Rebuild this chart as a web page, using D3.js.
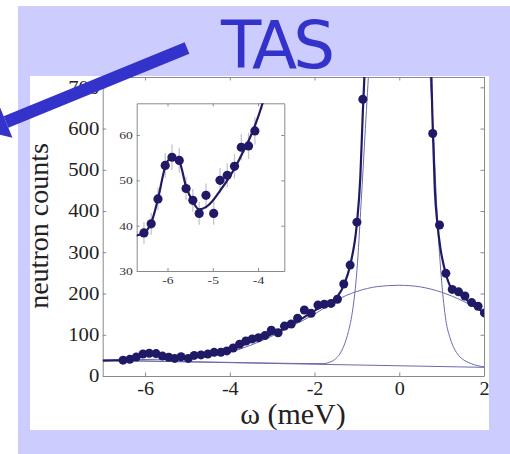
<!DOCTYPE html>
<html>
<head>
<meta charset="utf-8">
<script src="https://cdn.jsdelivr.net/npm/d3@7"></script>
<style>
  body { margin: 0; background: #fff; }
  svg { display: block; }
</style>
</head>
<body>
<div id="my_dataviz"></div>
<script>
// measured points (meV, counts)
let omega = [-6.52, -6.36, -6.21, -6.05, -5.90, -5.74, -5.59, -5.44, -5.30, -5.15, -4.98, -4.84, -4.68, -4.52, -4.37, -4.21, -4.07,
    -3.92, -3.77, -3.62, -3.47, -3.32, -3.17, -3.02, -2.86, -2.71, -2.55, -2.40, -2.24, -2.08, -1.92, -1.77, -1.61, -1.46, -1.31, -1.16, -1.00, -0.86,
    0.79, 0.95, 1.10, 1.25, 1.40, 1.55, 1.71, 1.86, 2.01]
let counts = [38.4, 40.4, 45.9, 53.3, 55.1, 54.4, 48.2, 45.6, 42.7, 46.7, 42.7, 50.0, 51.1, 53.1, 57.3, 57.6, 60.9,
    68, 77, 85, 90, 93, 98, 111, 105, 121, 126, 140, 160, 152, 172, 174, 176, 186, 223, 269, 373, 671,
    588, 366, 249, 210, 204, 194, 178, 169, 153]
// error bars only shown in the inset (first 18 points)
let insetErr = [2.4, 2.4, 2.5, 2.7, 2.8, 2.8, 2.6, 2.5, 2.5, 2.6, 2.5, 2.7, 2.7, 2.7, 2.9, 2.9, 3.0, 2.5]

// total fit
let fitOmega = [-7.00, -6.70, -6.52, -6.36, -6.21, -6.05, -5.90, -5.74, -5.59, -5.44, -5.30, -5.15, -5.00, -4.84, -4.68, -4.52, -4.37, -4.21, -4.07,
    -3.90, -3.60, -3.30, -3.00, -2.70, -2.40, -2.10, -1.80, -1.60, -1.45, -1.30, -1.15, -1.00, -0.92, -0.86, -0.80, -0.70, 0,
    0.70, 0.75, 0.79, 0.84, 0.90, 0.97, 1.05, 1.12, 1.20, 1.30, 1.45, 1.60, 1.80, 2.00]
let fitCounts = [37.5, 37.8, 38.4, 40.6, 45.9, 53.0, 55.2, 54.2, 48.6, 45.3, 43.6, 44.1, 45.5, 47.7, 50.0, 52.6, 55.5, 58.7, 62.0,
    67, 79, 90, 102, 116, 133, 152, 170, 181, 194, 222, 272, 370, 480, 640, 780, 1100, 3000,
    1100, 760, 604, 450, 370, 310, 268, 240, 218, 206, 196, 184, 168, 153]

// background + elastic line
let elasticOmega = [-7, -4, -2.5, -1.8, -1.65, -1.5, -1.4, -1.3, -1.2, -1.1, -1.0, -0.9, -0.8, -0.7, 0,
    0.7, 0.8, 0.9, 1.0, 1.1, 1.2, 1.3, 1.4, 1.55, 1.7, 1.85, 2.0]
let elasticCounts = [38, 33, 30.5, 30, 33, 42, 54, 75, 108, 160, 255, 420, 600, 780, 3000,
    780, 600, 380, 230, 135, 92, 66, 50, 37, 30, 25, 22.5]

// background + quasielastic
let broadOmega = [-7, -6, -5, -4, -3, -2.5, -2, -1.5, -1, -0.5, 0, 0.5, 1, 1.5, 2]
let broadCounts = [38, 40, 43, 58, 97, 123, 150, 183, 205, 217, 220, 216, 203, 182, 155]

// flat background
let backOmega = [-7, 2]
let backCounts = [38, 21]

let xTicks = [-6, -4, -2, 0, 2]
let yTicks = [0, 100, 200, 300, 400, 500, 600, 700]
let insetXTicks = [-6, -5, -4]
let insetYTicks = [30, 40, 50, 60]

let navy = "#1f1966"
let thin = "#6b6bab"
let serif = "'Liberation Serif', 'Times New Roman', serif"

let svg = d3.select("#my_dataviz")
    .append("svg")
    .attr("width", 510)
    .attr("height", 454)

svg.append("rect")
    .attr("x", 18).attr("y", 6)
    .attr("width", 492).attr("height", 448)
    .attr("fill", "#ccccff")

svg.append("text")
    .attr("x", 276)
    .attr("y", 68)
    .attr("text-anchor", "middle")
    .style("font-family", "'DejaVu Sans'")
    .style("font-size", "66px")
    .style("letter-spacing", "-4px")
    .attr("fill", "#3333cc")
    .text("TAS")

let defs = svg.append("defs")
defs.append("clipPath").attr("id", "panel")
    .append("rect").attr("x", 30).attr("y", 76).attr("width", 459).attr("height", 354)
defs.append("clipPath").attr("id", "plot")
    .append("rect").attr("x", 102.7).attr("y", 77).attr("width", 381.3).attr("height", 299)
defs.append("clipPath").attr("id", "insetclip")
    .append("rect").attr("x", 136.7).attr("y", 103.3).attr("width", 147.6).attr("height", 167.7)

let chart = svg.append("g").attr("clip-path", "url(#panel)")

chart.append("rect")
    .attr("x", 30).attr("y", 76)
    .attr("width", 459).attr("height", 354)
    .attr("fill", "#fff")

let x = d3.scaleLinear().domain([-7, 2]).range([102.7, 484])
let y = d3.scaleLinear().domain([0, 725]).range([376, 77])

function styleAxis(g, size, sx, color) {
    g.attr("font-family", null)
    g.select(".domain").attr("stroke", "#8a8a8a")
    g.selectAll(".tick line").attr("stroke", "#8a8a8a")
    g.selectAll(".tick text")
        .attr("font-family", serif)
        .style("font-family", serif)
        .style("font-size", size + "px")
        .attr("fill", color)
        .attr("transform", "scale(" + sx + ",1)")
}

chart.append("g")
    .attr("transform", "translate(0,376)")
    .call(d3.axisBottom(x).tickValues(xTicks).tickSizeInner(-3.5).tickSizeOuter(0).tickPadding(6).tickFormat(d => String(d)))
    .call(g => styleAxis(g, 18, 1.12, "#222"))
chart.append("g")
    .attr("transform", "translate(0,77)")
    .call(d3.axisTop(x).tickValues(xTicks).tickSizeInner(-3.5).tickSizeOuter(0).tickFormat(""))
    .call(g => styleAxis(g, 18, 1, "#222"))
chart.append("g")
    .attr("transform", "translate(102.7,0)")
    .call(d3.axisLeft(y).tickValues(yTicks).tickSizeInner(-3.5).tickSizeOuter(0).tickPadding(3).tickFormat(d => String(d)))
    .call(g => styleAxis(g, 18, 1.15, "#222"))
chart.append("g")
    .attr("transform", "translate(484,0)")
    .call(d3.axisRight(y).tickValues(yTicks).tickSizeInner(-3.5).tickSizeOuter(0).tickFormat(""))
    .call(g => styleAxis(g, 18, 1, "#222"))

chart.append("text")
    .attr("transform", "translate(48,226) rotate(-90)")
    .attr("text-anchor", "middle")
    .style("font-family", serif)
    .style("font-size", "28px")
    .attr("fill", "#222")
    .text("neutron counts")

chart.append("text")
    .attr("x", 293)
    .attr("y", 424)
    .attr("text-anchor", "middle")
    .style("font-family", serif)
    .style("font-size", "30px")
    .attr("fill", "#222")
    .text("ω (meV)")

let plot = chart.append("g").attr("clip-path", "url(#plot)")

function zipped(xs, ys) {
    return xs.map((d, i) => [d, ys[i]])
}

let mainLine = d3.line()
    .x(d => x(d[0]))
    .y(d => y(d[1]))
    .curve(d3.curveMonotoneX)

plot.append("path").datum(zipped(backOmega, backCounts))
    .attr("d", mainLine).attr("fill", "none").attr("stroke", thin).attr("stroke-width", 1)
plot.append("path").datum(zipped(broadOmega, broadCounts))
    .attr("d", mainLine).attr("fill", "none").attr("stroke", thin).attr("stroke-width", 1)
plot.append("path").datum(zipped(elasticOmega, elasticCounts))
    .attr("d", mainLine).attr("fill", "none").attr("stroke", thin).attr("stroke-width", 1)
plot.append("path").datum(zipped(fitOmega, fitCounts))
    .attr("d", mainLine).attr("fill", "none").attr("stroke", navy).attr("stroke-width", 2.2)

plot.selectAll(".dot")
    .data(zipped(omega, counts))
    .enter()
    .append("circle")
    .attr("class", "dot")
    .attr("cx", d => x(d[0]))
    .attr("cy", d => y(d[1]))
    .attr("r", 4.5)
    .attr("fill", navy)

// inset
let ix = d3.scaleLinear().domain([-6.68, -3.42]).range([136.7, 284.3])
let iy = d3.scaleLinear().domain([30, 67]).range([271, 103.3])

let inset = chart.append("g")
inset.append("rect")
    .attr("x", 136.7).attr("y", 103.3)
    .attr("width", 147.6).attr("height", 167.7)
    .attr("fill", "#fff")

inset.append("g")
    .attr("transform", "translate(0,271)")
    .call(d3.axisBottom(ix).tickValues(insetXTicks).tickSizeInner(-3).tickSizeOuter(0).tickPadding(6).tickFormat(d => String(d)))
    .call(g => styleAxis(g, 10.5, 1.3, "#333"))
inset.append("g")
    .attr("transform", "translate(0,103.3)")
    .call(d3.axisTop(ix).tickValues(insetXTicks).tickSizeInner(-3).tickSizeOuter(0).tickFormat(""))
    .call(g => styleAxis(g, 10.5, 1, "#333"))
inset.append("g")
    .attr("transform", "translate(136.7,0)")
    .call(d3.axisLeft(iy).tickValues(insetYTicks).tickSizeInner(-3).tickSizeOuter(0).tickPadding(3).tickFormat(d => String(d)))
    .call(g => styleAxis(g, 10.5, 1.3, "#333"))
inset.append("g")
    .attr("transform", "translate(284.3,0)")
    .call(d3.axisRight(iy).tickValues(insetYTicks).tickSizeInner(-3).tickSizeOuter(0).tickFormat(""))
    .call(g => styleAxis(g, 10.5, 1, "#333"))

let insetPlot = inset.append("g").attr("clip-path", "url(#insetclip)")
let insetData = zipped(omega, counts).slice(0, insetErr.length)

insetPlot.selectAll(".err")
    .data(insetData)
    .enter()
    .append("line")
    .attr("class", "err")
    .attr("x1", d => ix(d[0]))
    .attr("x2", d => ix(d[0]))
    .attr("y1", (d, i) => iy(d[1] - insetErr[i]))
    .attr("y2", (d, i) => iy(d[1] + insetErr[i]))
    .attr("stroke", "#c4c4cc")
    .attr("stroke-width", 1.3)

let insetLine = d3.line()
    .x(d => ix(d[0]))
    .y(d => iy(d[1]))
    .curve(d3.curveMonotoneX)

insetPlot.append("path").datum(zipped(fitOmega, fitCounts).filter(d => d[0] < -3.0))
    .attr("d", insetLine).attr("fill", "none").attr("stroke", navy).attr("stroke-width", 2.2)

insetPlot.selectAll(".idot")
    .data(insetData)
    .enter()
    .append("circle")
    .attr("class", "idot")
    .attr("cx", d => ix(d[0]))
    .attr("cy", d => iy(d[1]))
    .attr("r", 4.6)
    .attr("fill", navy)

// big arrow pointing out of the slide
let start = [187, 48], base = [6, 122]
let len = Math.hypot(base[0] - start[0], base[1] - start[1])
let u = [(base[0] - start[0]) / len, (base[1] - start[1]) / len]
let n = [-u[1], u[0]]
let tip = [base[0] + 24 * u[0], base[1] + 24 * u[1]]

svg.append("line")
    .attr("x1", start[0]).attr("y1", start[1])
    .attr("x2", base[0]).attr("y2", base[1])
    .attr("stroke", "#3333cc")
    .attr("stroke-width", 12.5)
svg.append("polygon")
    .attr("points", [
        [base[0] + 17 * n[0], base[1] + 17 * n[1]],
        tip,
        [base[0] - 17 * n[0], base[1] - 17 * n[1]]
    ].map(p => p.join(",")).join(" "))
    .attr("fill", "#3333cc")
</script>
</body>
</html>
